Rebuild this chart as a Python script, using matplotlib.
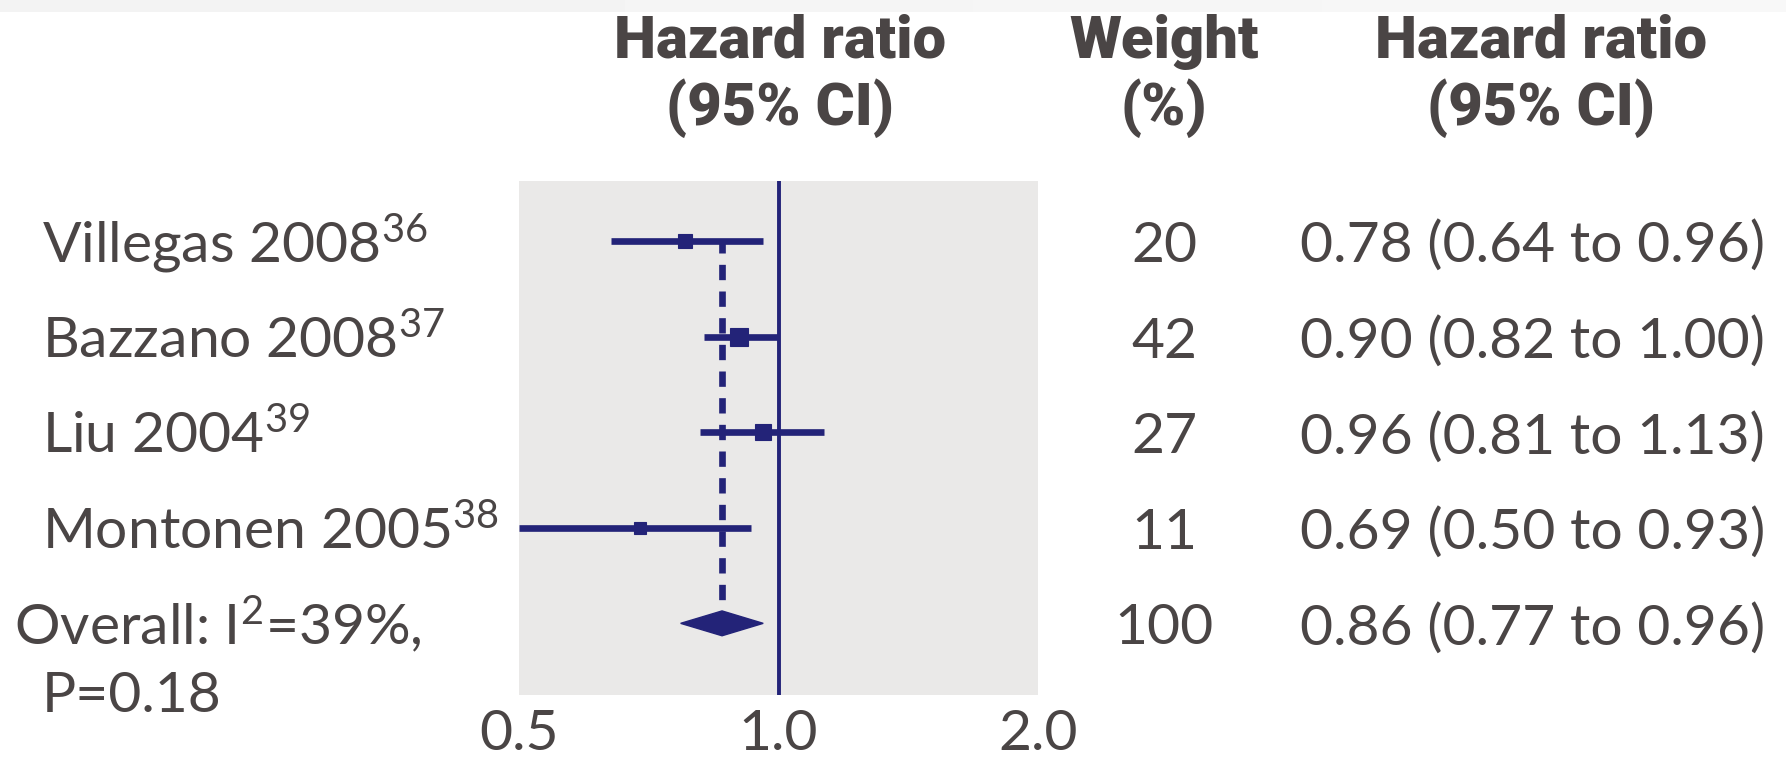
import numpy as np
import matplotlib.pyplot as plt
from matplotlib import font_manager as fm
from matplotlib.transforms import blended_transform_factory
from matplotlib.patches import Polygon

# 数据
studies = ['Villegas 2008', 'Bazzano 2008', 'Liu 2004', 'Montonen 2005']
refs = ['36', '37', '39', '38']
hr = [0.78, 0.90, 0.96, 0.69]
lo = [0.64, 0.82, 0.81, 0.50]
hi = [0.96, 1.00, 1.13, 0.93]
weights = [20, 42, 27, 11]
overall_hr, overall_lo, overall_hi = 0.86, 0.77, 0.96
overall_label = ['Overall: I$^{\\mathrm{2}}$=39%,', 'P=0.18']
ticks = [0.5, 1.0, 2.0]
tick_labels = ['0.5', '1.0', '2.0']

NAVY = '#232378'
GRAY_TXT = '#4a4545'
PANEL = '#eae9e8'

installed = {f.name for f in fm.fontManager.ttflist}
body_font = 'Lato' if 'Lato' in installed else 'DejaVu Sans'
head_font = 'DejaVu Sans'
for cand in ['Liberation Sans Narrow', 'DejaVu Sans Condensed', 'Roboto']:
    if cand in installed:
        head_font = cand
        break

plt.rcParams['font.family'] = [body_font, 'DejaVu Sans']
plt.rcParams['mathtext.fontset'] = 'custom'
plt.rcParams['mathtext.rm'] = body_font
plt.rcParams['mathtext.it'] = body_font

W, H = 1786, 757
fig = plt.figure(figsize=(W / 100, H / 100), dpi=100)

# 顶部淡灰色阴影
band = fig.add_axes([0, 1 - 12 / H, 1, 12 / H])
grad = np.linspace(0.95, 0.97, 200)[None, :]
band.imshow(grad, aspect='auto', cmap='gray', vmin=0, vmax=1, extent=[0, 1, 0, 1])
band.axis('off')

# 主面板 (像素坐标)
px_l, px_r, px_t, px_b = 519, 1038, 181, 695
ax = fig.add_axes([px_l / W, 1 - px_b / H, (px_r - px_l) / W, (px_b - px_t) / H])
ax.set_facecolor(PANEL)
ax.set_xscale('log')
ax.set_xlim(0.5, 2.0)
ax.set_ylim(4.75, -0.63)
for s in ax.spines.values():
    s.set_visible(False)
ax.set_yticks([])
ax.set_xticks(ticks)
ax.set_xticklabels(tick_labels)
ax.minorticks_off()
ax.tick_params(axis='x', length=0, pad=10, labelsize=41, labelcolor=GRAY_TXT)

rows = np.arange(len(studies))
n = len(studies)
dh = 0.13  # 菱形半高

# 参考线
ax.axvline(1.0, color=NAVY, lw=2.8, zorder=2)
ax.plot([overall_hr, overall_hr], [0, n - dh], color=NAVY, lw=4.8,
        linestyle=(0.5, (2.3, 1.7)), solid_capstyle='butt', dash_capstyle='butt', zorder=3)

# 各研究
for i in rows:
    ax.plot([lo[i], hi[i]], [i, i], color=NAVY, lw=4.8, solid_capstyle='butt', zorder=4)
    ms = 4.5 + 1.25 * np.sqrt(weights[i])
    ax.plot(hr[i], i, marker='s', ms=ms, color=NAVY, mec=NAVY, mew=0.8, zorder=5)

# 合并效应菱形
ax.add_patch(Polygon([[overall_lo, n], [overall_hr, n - dh], [overall_hi, n], [overall_hr, n + dh]],
                     closed=True, color=NAVY, zorder=5))

# 文本列
tr = blended_transform_factory(fig.transFigure, ax.transData)
fs = 41
base = 0.22
for i in rows:
    ax.text(42 / W, i + base, f'{studies[i]}$^{{\\mathrm{{{refs[i]}}}}}$', transform=tr,
            fontsize=fs, color=GRAY_TXT, ha='left', va='baseline')
    ax.text(1164 / W, i + base, str(weights[i]), transform=tr,
            fontsize=fs, color=GRAY_TXT, ha='center', va='baseline')
    ax.text(1300 / W, i + base, f'{hr[i]:.2f} ({lo[i]:.2f} to {hi[i]:.2f})', transform=tr,
            fontsize=fs, color=GRAY_TXT, ha='left', va='baseline')

ax.text(14 / W, n + base, overall_label[0], transform=tr,
        fontsize=fs, color=GRAY_TXT, ha='left', va='baseline')
ax.text(42 / W, n + 0.93, overall_label[1], transform=tr,
        fontsize=fs, color=GRAY_TXT, ha='left', va='baseline')
ax.text(1164 / W, n + base, str(sum(weights)), transform=tr,
        fontsize=fs, color=GRAY_TXT, ha='center', va='baseline')
ax.text(1300 / W, n + base, f'{overall_hr:.2f} ({overall_lo:.2f} to {overall_hi:.2f})', transform=tr,
        fontsize=fs, color=GRAY_TXT, ha='left', va='baseline')

# 表头
headers = [('Hazard ratio', '(95% CI)', 780), ('Weight', '(%)', 1164), ('Hazard ratio', '(95% CI)', 1541)]
for l1, l2, x in headers:
    fig.text(x / W, 1 - 58 / H, l1, fontsize=43, fontweight='black', family=[head_font, 'DejaVu Sans'],
             color=GRAY_TXT, ha='center', va='baseline')
    fig.text(x / W, 1 - 125 / H, l2, fontsize=43, fontweight='black', family=[head_font, 'DejaVu Sans'],
             color=GRAY_TXT, ha='center', va='baseline')

fig.savefig('out.png', dpi=100)
